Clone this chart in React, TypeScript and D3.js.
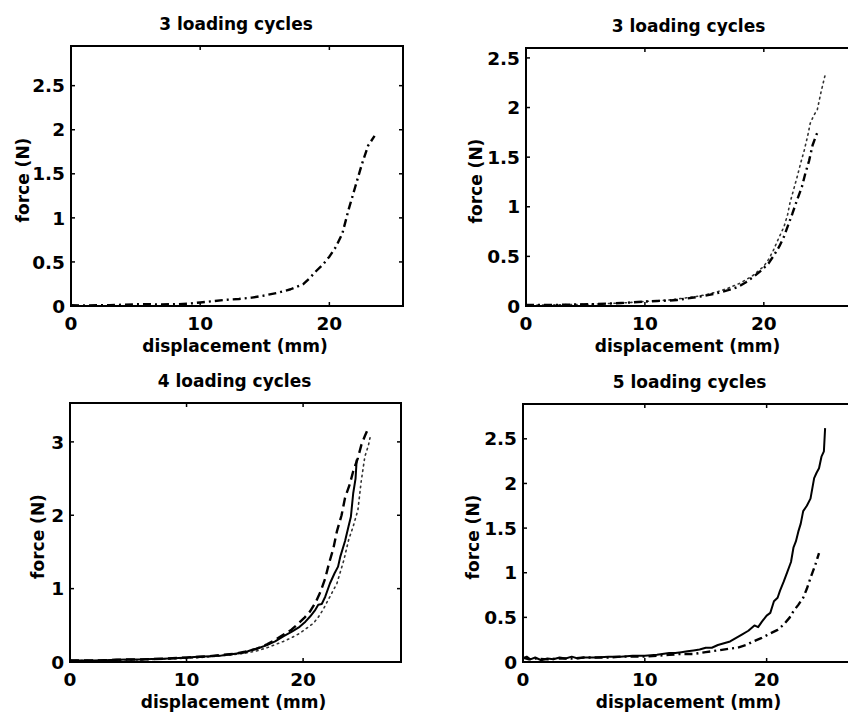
import React from "react";
import * as d3 from "d3";

// ---------- data ----------
const titles = ["3 loading cycles", "3 loading cycles", "4 loading cycles", "5 loading cycles"];
const xLabel = "displacement (mm)";
const yLabel = "force (N)";

const xTicks = [0, 10, 20];
const yTicksA = [0, 0.5, 1, 1.5, 2, 2.5];
const yTicksB = [0, 1, 2, 3];

// panel 1 : dash-dot
const p1X = [0, 1, 2, 3, 4, 5, 6, 7, 8, 9, 10, 11, 12, 13, 14, 15, 16, 17, 18, 18.5, 19, 19.5, 20, 20.5, 21, 21.5, 22, 22.5, 23, 23.5];
const p1Y = [0.01, 0.005, 0.01, 0.008, 0.015, 0.02, 0.02, 0.018, 0.02, 0.025, 0.04, 0.055, 0.07, 0.08, 0.095, 0.12, 0.15, 0.19, 0.25, 0.32, 0.4, 0.47, 0.56, 0.67, 0.82, 1.1, 1.35, 1.6, 1.82, 1.93];

// panel 2 : dash-dot + dotted
const p2aX = [0, 2, 4, 6, 8, 10, 11, 12, 12.7, 13.5, 14.4, 15.3, 16.1, 17, 17.8, 18.5, 19.2, 19.8, 20.4, 20.9, 21.3, 21.7, 22.0, 22.4, 22.8, 23.2, 23.5, 23.8, 24.1, 24.4, 24.6];
const p2aY = [0.01, 0.01, 0.015, 0.02, 0.03, 0.045, 0.05, 0.055, 0.06, 0.075, 0.09, 0.11, 0.13, 0.16, 0.19, 0.24, 0.3, 0.36, 0.43, 0.52, 0.6, 0.7, 0.8, 0.93, 1.07, 1.2, 1.34, 1.46, 1.62, 1.72, 1.77];
const p2bX = [0, 2, 4, 6, 8, 10, 12, 13, 14, 15, 16, 17, 18, 19, 19.5, 20, 20.4, 20.8, 21.2, 21.7, 22.0, 22.2, 22.5, 22.8, 23.1, 23.4, 23.7, 23.9, 24.2, 24.5, 24.8, 25.2];
const p2bY = [0.01, 0.01, 0.015, 0.02, 0.03, 0.045, 0.06, 0.075, 0.09, 0.11, 0.14, 0.18, 0.23, 0.3, 0.35, 0.4, 0.47, 0.56, 0.67, 0.8, 0.92, 1.04, 1.17, 1.3, 1.44, 1.57, 1.72, 1.84, 1.92, 1.98, 2.15, 2.35];

// panel 3 : solid + dashed + dotted
const p3aX = [0, 1, 2, 3, 4, 5, 6, 7, 8, 9, 10, 11, 12, 13, 14, 15, 15.5, 16.2, 16.9, 17.6, 18.3, 19, 19.7, 20.2, 20.6, 21, 21.3, 21.6, 21.9, 22.3, 22.7, 23, 23.2, 23.6, 23.9, 24.1, 24.3, 24.5, 24.6];
const p3aY = [0.02, 0.02, 0.02, 0.025, 0.03, 0.035, 0.035, 0.04, 0.045, 0.05, 0.06, 0.07, 0.08, 0.09, 0.11, 0.13, 0.16, 0.19, 0.23, 0.28, 0.35, 0.41, 0.48, 0.55, 0.62, 0.7, 0.78, 0.79, 0.89, 1.07, 1.21, 1.3, 1.44, 1.65, 1.85, 1.98, 2.3, 2.5, 2.76];
const p3bX = [0, 1, 2, 3, 4, 5, 6, 8, 10, 12, 14, 15, 16, 16.9, 17.6, 18.3, 19, 19.5, 20.1, 20.6, 21.1, 21.5, 21.9, 22.2, 22.6, 22.9, 23.3, 23.6, 24, 24.3, 24.7, 25, 25.3, 25.6];
const p3bY = [0.02, 0.02, 0.02, 0.025, 0.03, 0.035, 0.035, 0.045, 0.06, 0.08, 0.11, 0.14, 0.18, 0.24, 0.3, 0.37, 0.44, 0.51, 0.6, 0.69, 0.82, 0.96, 1.14, 1.33, 1.55, 1.78, 2.0, 2.24, 2.42, 2.6, 2.78, 2.96, 3.08, 3.19];
const p3cX = [0, 2, 4, 6, 8, 10, 12, 14, 15, 16, 17, 18.3, 19, 19.7, 20.3, 20.9, 21.3, 21.7, 22, 22.3, 22.6, 22.9, 23.2, 23.5, 23.9, 24.3, 24.7, 25, 25.3, 25.6, 25.8];
const p3cY = [0.02, 0.02, 0.025, 0.03, 0.04, 0.05, 0.07, 0.1, 0.12, 0.15, 0.2, 0.28, 0.33, 0.39, 0.46, 0.53, 0.61, 0.71, 0.8, 0.89, 0.98, 1.07, 1.23, 1.39, 1.66, 1.85, 2.07, 2.48, 2.8, 2.95, 3.1];

// panel 4 : solid + dash-dot
const p4aX = [0, 0.3, 0.6, 1, 1.5, 2, 2.5, 3, 3.5, 4, 4.5, 5, 6, 7, 8, 9, 10, 11, 12, 12.5, 13, 13.5, 14, 14.5, 15, 15.5, 16, 16.5, 17, 17.5, 18, 18.5, 19, 19.3, 19.6, 20, 20.3, 20.6, 20.9, 21.1, 21.4, 21.7, 22, 22.2, 22.4, 22.6, 22.8, 23, 23.3, 23.6, 23.9, 24.1, 24.3, 24.5, 24.7, 24.8];
const p4aY = [0.04, 0.06, 0.03, 0.05, 0.02, 0.04, 0.03, 0.05, 0.04, 0.06, 0.04, 0.05, 0.05, 0.06, 0.06, 0.07, 0.07, 0.08, 0.1, 0.1, 0.11, 0.12, 0.13, 0.14, 0.16, 0.16, 0.19, 0.21, 0.23, 0.27, 0.31, 0.35, 0.41, 0.39, 0.45, 0.52, 0.55, 0.68, 0.72, 0.8, 0.9, 1.01, 1.12, 1.28, 1.35, 1.46, 1.55, 1.69, 1.75, 1.83, 2.06, 2.12, 2.17, 2.3, 2.36, 2.62];
const p4bX = [0, 0.5, 1, 2, 3, 4, 5, 6, 7, 8, 9, 10, 11, 12, 13, 14, 15, 16, 17, 17.6, 18.3, 18.9, 19.6, 20.3, 20.9, 21.4, 21.9, 22.2, 22.6, 23, 23.3, 23.6, 24, 24.3];
const p4bY = [0.05, 0.03, 0.04, 0.03, 0.04, 0.04, 0.05, 0.05, 0.05, 0.06, 0.06, 0.06, 0.07, 0.08, 0.09, 0.09, 0.11, 0.13, 0.15, 0.16, 0.19, 0.23, 0.27, 0.32, 0.36, 0.42, 0.5, 0.57, 0.64, 0.72, 0.82, 0.94, 1.09, 1.22];

// ---------- styles ----------
const STYLES: Record<string, { dash: string; w: number; color: string }> = {
  solid: { dash: "none", w: 2, color: "#000" },
  dashed: { dash: "9,5", w: 2.4, color: "#000" },
  dashdot: { dash: "8,4,2,4", w: 2.4, color: "#000" },
  dotted: { dash: "1.5,4", w: 1.6, color: "#333" },
};

type Series = { xs: number[]; ys: number[]; style: string };
type Panel = {
  title: string;
  left: number; right: number; top: number; bottom: number;
  xMax: number; yMax: number; yTicks: number[]; yLabelOffset: number;
  series: Series[];
};

const panels: Panel[] = [
  { title: titles[0], left: 71, right: 403, top: 46, bottom: 306, xMax: 25.7, yMax: 2.95, yTicks: yTicksA, yLabelOffset: 48,
    series: [{ xs: p1X, ys: p1Y, style: "dashdot" }] },
  { title: titles[1], left: 526, right: 853, top: 48, bottom: 306, xMax: 27.5, yMax: 2.6, yTicks: yTicksA, yLabelOffset: 50,
    series: [{ xs: p2bX, ys: p2bY, style: "dotted" }, { xs: p2aX, ys: p2aY, style: "dashdot" }] },
  { title: titles[2], left: 70, right: 401, top: 403, bottom: 662, xMax: 28.4, yMax: 3.53, yTicks: yTicksB, yLabelOffset: 32,
    series: [{ xs: p3cX, ys: p3cY, style: "dotted" }, { xs: p3bX, ys: p3bY, style: "dashed" }, { xs: p3aX, ys: p3aY, style: "solid" }] },
  { title: titles[3], left: 523, right: 858, top: 404, bottom: 662, xMax: 27.5, yMax: 2.89, yTicks: yTicksA, yLabelOffset: 50,
    series: [{ xs: p4bX, ys: p4bY, style: "dashdot" }, { xs: p4aX, ys: p4aY, style: "solid" }] },
];

const FONT = "'DejaVu Sans', Verdana, sans-serif";
const FS_LABEL = 17;
const FS_TICK = 18.5;

function PanelView({ p }: { p: Panel }) {
  const x = d3.scaleLinear().domain([0, p.xMax]).range([p.left, p.right]);
  const y = d3.scaleLinear().domain([0, p.yMax]).range([p.bottom, p.top]);
  const line = d3.line<[number, number]>().x((d) => x(d[0])).y((d) => y(d[1]));
  const tl = 4;
  const cx = (p.left + p.right) / 2;
  return (
    <g>
      {p.series.map((s, i) => {
        const st = STYLES[s.style];
        const pts = s.xs.map((v, k) => [v, s.ys[k]] as [number, number]);
        return (
          <path key={i} d={line(pts) || ""} fill="none" stroke={st.color} strokeWidth={st.w}
            strokeDasharray={st.dash} strokeLinejoin="round" strokeLinecap={s.style === "dotted" ? "round" : "butt"} />
        );
      })}
      {/* frame */}
      <rect x={p.left} y={p.top} width={p.right - p.left} height={p.bottom - p.top} fill="none" stroke="#000" strokeWidth={2} />
      {/* x ticks */}
      {xTicks.map((t) => (
        <g key={"x" + t}>
          <line x1={x(t)} x2={x(t)} y1={p.bottom} y2={p.bottom - tl} stroke="#000" strokeWidth={1.5} />
          <line x1={x(t)} x2={x(t)} y1={p.top} y2={p.top + tl} stroke="#000" strokeWidth={1.5} />
          <text x={x(t)} y={p.bottom + 24} textAnchor="middle" fontFamily={FONT} fontWeight="bold" fontSize={FS_TICK}>{t}</text>
        </g>
      ))}
      {/* y ticks */}
      {p.yTicks.map((t) => (
        <g key={"y" + t}>
          <line x1={p.left} x2={p.left + tl} y1={y(t)} y2={y(t)} stroke="#000" strokeWidth={1.5} />
          <line x1={p.right} x2={p.right - tl} y1={y(t)} y2={y(t)} stroke="#000" strokeWidth={1.5} />
          <text x={p.left - 6} y={y(t)} dy="0.36em" textAnchor="end" fontFamily={FONT} fontWeight="bold" fontSize={FS_TICK}>{t}</text>
        </g>
      ))}
      <text x={cx - 1} y={p.top - 16} textAnchor="middle" fontFamily={FONT} fontWeight="bold" fontSize={FS_LABEL}>{p.title}</text>
      <text x={cx - 2} y={p.bottom + 46} textAnchor="middle" fontFamily={FONT} fontWeight="bold" fontSize={FS_LABEL}>{xLabel}</text>
      <text transform={`translate(${p.left - p.yLabelOffset},${(p.top + p.bottom) / 2 + 4}) rotate(-90)`} dy="0.36em"
        textAnchor="middle" fontFamily={FONT} fontWeight="bold" fontSize={FS_LABEL}>{yLabel}</text>
    </g>
  );
}

export default function App() {
  return (
    <svg width={848} height={716} style={{ position: "absolute", left: 0, top: 0, background: "#fff" }}>
      <rect x={0} y={0} width={848} height={716} fill="#fff" />
      {panels.map((p, i) => <PanelView key={i} p={p} />)}
    </svg>
  );
}
